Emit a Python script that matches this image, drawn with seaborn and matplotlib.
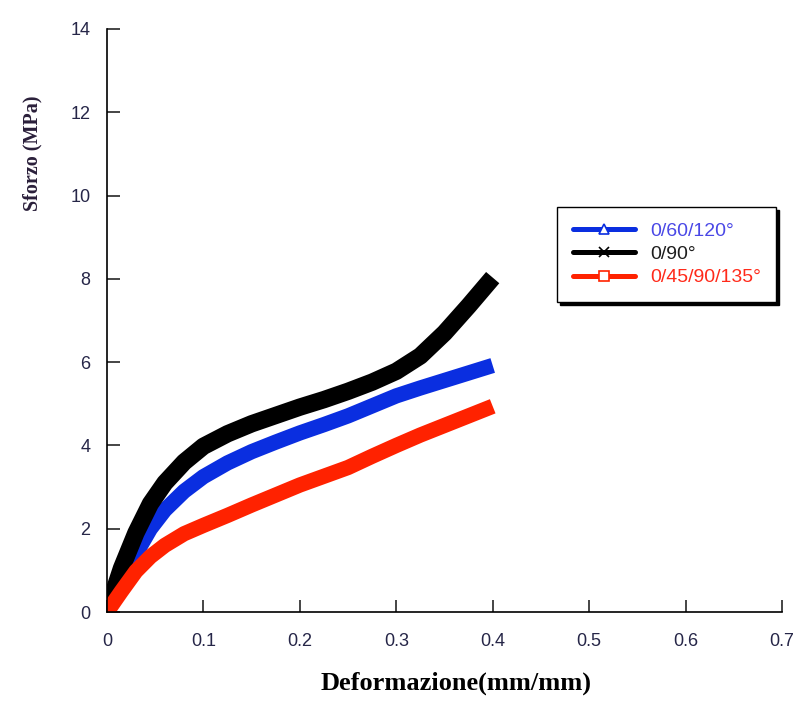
import numpy as np
import pandas as pd
import seaborn as sns
import matplotlib.pyplot as plt

sns.set_style("ticks")
plt.rcParams['font.family'] = ['Liberation Sans', 'DejaVu Sans']

# strain values (mm/mm)
strain = [0.0, 0.015, 0.03, 0.045, 0.06, 0.08, 0.10, 0.125, 0.15, 0.175, 0.20,
          0.225, 0.25, 0.275, 0.30, 0.325, 0.35, 0.375, 0.40]
# stress values (MPa)
s_60_120 = [0.0, 0.7, 1.4, 2.0, 2.45, 2.9, 3.25, 3.58, 3.85, 4.08, 4.3,
            4.5, 4.71, 4.95, 5.19, 5.38, 5.56, 5.74, 5.92]
s_90 = [0.0, 1.05, 1.9, 2.6, 3.1, 3.6, 3.98, 4.28, 4.52, 4.72, 4.92,
        5.1, 5.3, 5.52, 5.78, 6.15, 6.7, 7.35, 8.03]
s_45_90_135 = [0.0, 0.5, 0.98, 1.33, 1.6, 1.88, 2.08, 2.32, 2.57, 2.81, 3.05,
               3.26, 3.47, 3.74, 4.0, 4.25, 4.48, 4.71, 4.94]

labels = ["0/60/120°", "0/90°", "0/45/90/135°"]
colors = ["#0a2ee0", "#000000", "#ff2200"]
text_colors = ["#4a48e6", "#1e1e1e", "#ff2a1a"]
markers = ["^", "x", "s"]
widths = [11, 12.5, 11]
series = [s_60_120, s_90, s_45_90_135]

fig = plt.figure(figsize=(8.04, 7.02), dpi=100)
ax = fig.add_axes([0.1331, 0.1282, 0.8395, 0.8305])

handles = []
for lab, col, mk, ys, w in zip(labels, colors, markers, series, widths):
    df = pd.DataFrame({"x": strain, "y": ys})
    sns.lineplot(data=df, x="x", y="y", ax=ax, color=col, lw=w,
                 solid_capstyle='butt', solid_joinstyle='round', sort=False)
    h, = ax.plot([], [], color=col, lw=3.6, marker=mk, markersize=7,
                 markerfacecolor='white', markeredgecolor=col, markeredgewidth=1.2)
    handles.append(h)

ax.set_xlim(0, 0.7)
ax.set_ylim(0, 14)
ax.set_xticks(np.arange(0, 0.71, 0.1))
ax.set_xticklabels(["0", "0.1", "0.2", "0.3", "0.4", "0.5", "0.6", "0.7"])
ax.set_yticks(np.arange(0, 15, 2))
ax.set_yticklabels([str(v) for v in range(0, 15, 2)])
for sp in ["top", "right"]:
    ax.spines[sp].set_visible(False)
for sp in ["left", "bottom"]:
    ax.spines[sp].set_linewidth(1.2)
    ax.spines[sp].set_color("black")
ax.tick_params(direction='in', length=9, width=1.2, labelsize=13,
               labelcolor="#262648")
ax.tick_params(axis='x', pad=15)
ax.tick_params(axis='y', pad=12)

ax.set_xlabel("Deformazione(mm/mm)", family=['Liberation Serif'], fontweight='bold',
              fontsize=19, color='black')
ax.xaxis.set_label_coords(0.517, -0.103)
ax.set_ylabel("Sforzo (MPa)", family=['Liberation Serif'], fontweight='bold',
              fontsize=14.5, color='#2a1f3a')
ax.yaxis.set_label_coords(-0.096, 0.787)

leg = ax.legend(handles, labels, loc='upper left', bbox_to_anchor=(0.667, 0.695),
                frameon=True, fancybox=False, fontsize=14, handlelength=3.2,
                borderpad=0.8, labelspacing=0.29, handletextpad=0.77,
                borderaxespad=0, shadow={'color': 'black', 'alpha': 1})
leg.get_frame().set_edgecolor('black')
leg.get_frame().set_linewidth(1.0)
for t, c in zip(leg.get_texts(), text_colors):
    t.set_color(c)

fig.savefig("out.png", dpi=100, facecolor='white')
